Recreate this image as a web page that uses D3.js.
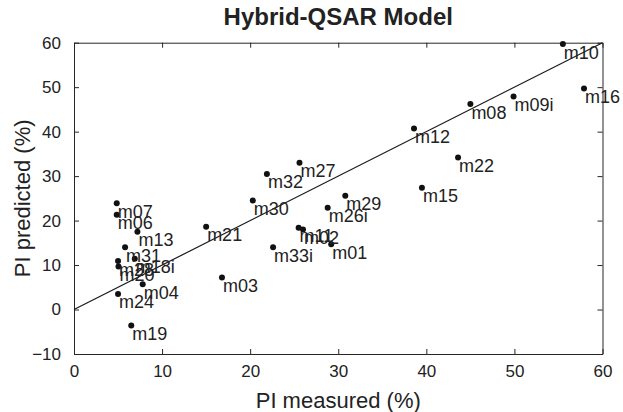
<!DOCTYPE html>
<html>
<head>
<meta charset="utf-8">
<script src="https://cdn.jsdelivr.net/npm/d3@7"></script>
<style>
  html, body { margin: 0; padding: 0; background: #fff; }
  svg { display: block; font-family: "Liberation Sans", Arial, sans-serif; }
</style>
</head>
<body>
<svg id="chart" width="623" height="412"></svg>
<script>
// Compound codes with measured vs. predicted PI (%)
const compounds = ["m10","m16","m09i","m08","m12","m22","m15","m27","m32","m30","m29","m26i",
                   "m11","m02","m01","m33i","m07","m06","m13","m21","m31","m18i","m28","m20",
                   "m04","m24","m19","m03"];
const measured  = [55.5, 57.9, 49.9, 45.0, 38.6, 43.6, 39.5, 25.6, 21.9, 20.3, 30.8, 28.8,
                   25.5, 26.0, 29.2, 22.6, 4.85, 4.85, 7.2, 15.0, 5.8, 6.9, 5.0, 5.05,
                   7.8, 5.0, 6.5, 16.8];
const predicted = [59.7, 49.7, 47.9, 46.2, 40.7, 34.2, 27.4, 33.0, 30.5, 24.5, 25.6, 22.9,
                   18.4, 18.0, 14.7, 14.0, 23.9, 21.3, 17.5, 18.6, 14.0, 11.4, 10.9, 9.7,
                   5.7, 3.5, -3.6, 7.2];
const xTicks = [0, 10, 20, 30, 40, 50, 60];
const yTicks = [-10, 0, 10, 20, 30, 40, 50, 60];
const identityLine = [[0, 0], [60, 60]];

const margin = { left: 74, right: 20.5, top: 42.7, bottom: 58 };
const W = 623, H = 412;
const svg = d3.select("#chart");
const axisColor = "#262626";

const x = d3.scaleLinear().domain([0, 60]).range([margin.left, W - margin.right]);
const y = d3.scaleLinear().domain([-10, 60]).range([H - margin.bottom, margin.top]);

// axes with inward ticks, mirrored on top and right (boxed frame)
function styleAxis(g) {
  g.select(".domain").attr("stroke", axisColor).attr("stroke-width", 1);
  g.selectAll(".tick line").attr("stroke", axisColor);
  g.selectAll(".tick text").attr("fill", "#222").attr("font-size", 17)
    .attr("font-family", "Liberation Sans, Arial, sans-serif");
}
const tickLen = 5;
svg.append("g").attr("transform", `translate(0,${y(-10)})`)
  .call(d3.axisBottom(x).tickValues(xTicks).tickSizeInner(-tickLen).tickSizeOuter(0).tickPadding(11))
  .call(styleAxis);
svg.append("g").attr("transform", `translate(0,${y(60)})`)
  .call(d3.axisTop(x).tickValues(xTicks).tickSizeInner(-tickLen).tickSizeOuter(0).tickFormat(""))
  .call(styleAxis);
svg.append("g").attr("transform", `translate(${x(0)},0)`)
  .call(d3.axisLeft(y).tickValues(yTicks).tickSizeInner(-tickLen).tickSizeOuter(0).tickPadding(13))
  .call(styleAxis);
svg.append("g").attr("transform", `translate(${x(60)},0)`)
  .call(d3.axisRight(y).tickValues(yTicks).tickSizeInner(-tickLen).tickSizeOuter(0).tickFormat(""))
  .call(styleAxis);

// y = x reference line
svg.append("path")
  .datum(identityLine)
  .attr("d", d3.line().x(d => x(d[0])).y(d => y(d[1])))
  .attr("fill", "none").attr("stroke", "#1a1a1a").attr("stroke-width", 1.2);

const pts = compounds.map((c, i) => ({ c, mx: measured[i], py: predicted[i] }));

svg.append("g").selectAll("circle").data(pts).join("circle")
  .attr("cx", d => x(d.mx)).attr("cy", d => y(d.py)).attr("r", 3)
  .attr("fill", "#111");

svg.append("g").selectAll("text").data(pts).join("text")
  .attr("x", d => x(d.mx) + 1).attr("y", d => y(d.py) + 14.5)
  .attr("font-size", 18).attr("fill", "#222")
  .text(d => d.c);

// title and axis labels
svg.append("text").attr("x", (x(0) + x(60)) / 2).attr("y", 25)
  .attr("text-anchor", "middle").attr("font-weight", "bold").attr("font-size", 24)
  .attr("fill", "#222").text("Hybrid-QSAR Model");
svg.append("text").attr("x", (x(0) + x(60)) / 2).attr("y", 408)
  .attr("text-anchor", "middle").attr("font-size", 22).attr("fill", "#222")
  .text("PI measured (%)");
svg.append("text")
  .attr("transform", `translate(30,${(y(-10) + y(60)) / 2}) rotate(-90)`)
  .attr("text-anchor", "middle").attr("font-size", 22).attr("fill", "#222")
  .text("PI predicted (%)");
</script>
</body>
</html>
